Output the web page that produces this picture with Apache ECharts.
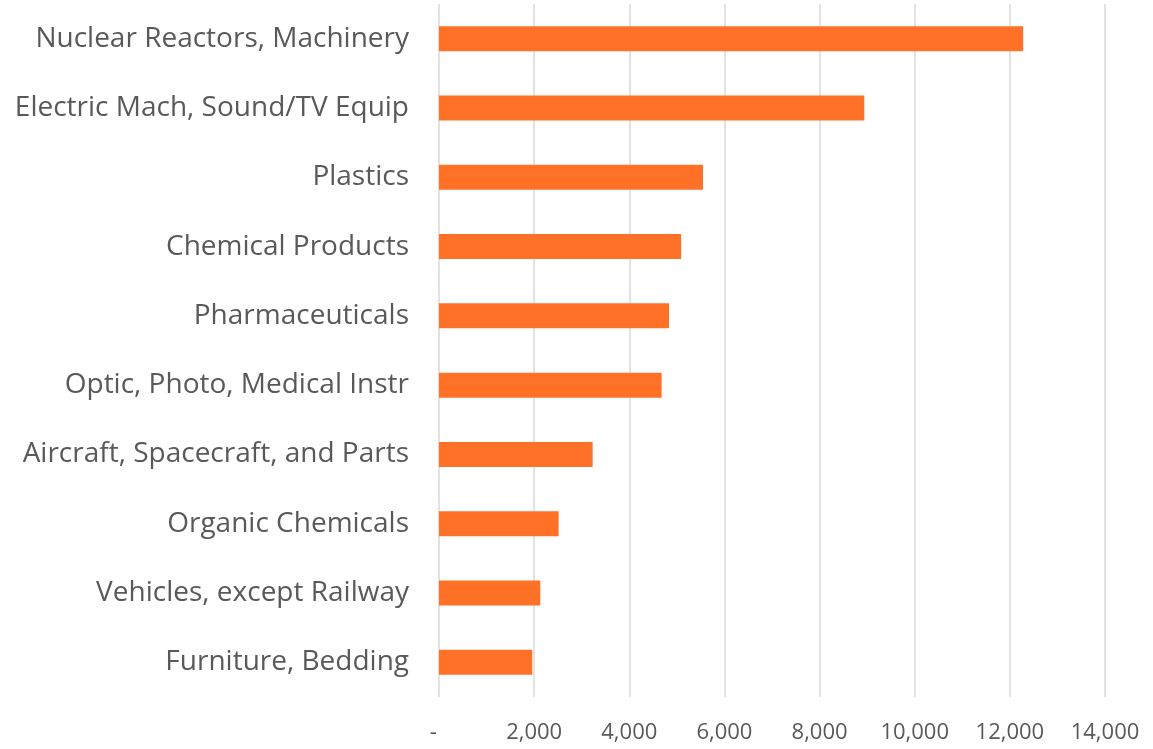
<!DOCTYPE html>
<html>
<head>
<meta charset="utf-8">
<script src="https://cdn.jsdelivr.net/npm/echarts@6/dist/echarts.min.js"></script>
<style>html,body{margin:0;padding:0;background:#fff;}#c{width:1153px;height:749px;}</style>
</head>
<body>
<div id="c"></div>
<script>
const categories = [
  "Nuclear Reactors, Machinery",
  "Electric Mach, Sound/TV Equip",
  "Plastics",
  "Chemical Products",
  "Pharmaceuticals",
  "Optic, Photo, Medical Instr",
  "Aircraft, Spacecraft, and Parts",
  "Organic Chemicals",
  "Vehicles, except Railway",
  "Furniture, Bedding"
];
const values = [12280, 8940, 5550, 5090, 4835, 4680, 3230, 2515, 2130, 1960];
const xTicks = { min: 0, max: 14000, interval: 2000 };

const chart = echarts.init(document.getElementById('c'));
chart.setOption({
  animation: false,
  grid: { left: 439, right: 48, top: 4, bottom: 52, containLabel: false },
  xAxis: {
    type: 'value',
    min: xTicks.min, max: xTicks.max, interval: xTicks.interval,
    axisLine: { show: false },
    axisTick: { show: false },
    splitLine: { lineStyle: { color: '#d9d9d9', width: 1.5 } },
    axisLabel: {
      margin: 25,
      color: '#595959',
      fontFamily: 'Open Sans',
      fontSize: 22,
      formatter: function (v) {
        return v === 0 ? '-  ' : v.toLocaleString('en-US');
      }
    }
  },
  yAxis: {
    type: 'category',
    data: categories,
    inverse: true,
    axisLine: { show: false },
    axisTick: { show: false },
    splitLine: { show: false },
    axisLabel: {
      margin: 30,
      color: '#595959',
      fontFamily: 'Open Sans',
      fontSize: 28
    }
  },
  series: [{
    type: 'bar',
    data: values,
    barWidth: 25,
    itemStyle: { color: '#FF7126' }
  }]
});
</script>
</body>
</html>
